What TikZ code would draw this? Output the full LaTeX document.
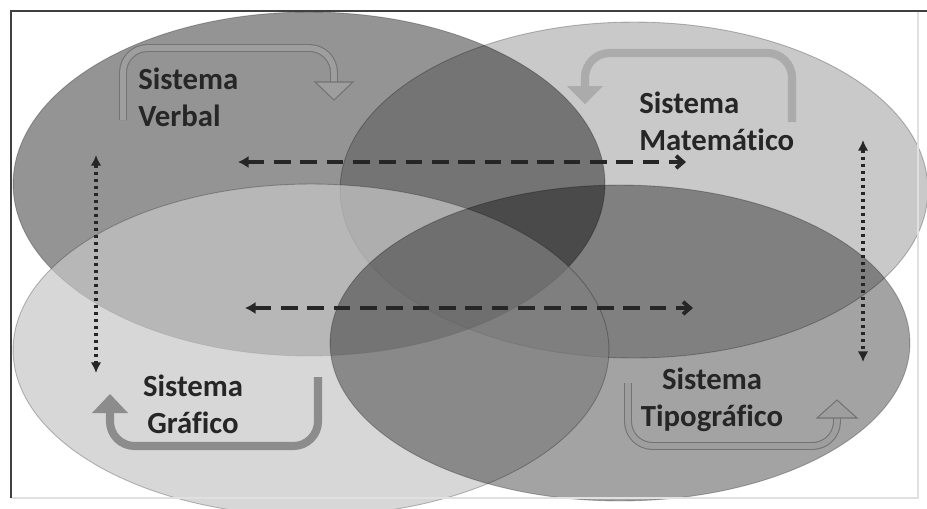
\documentclass[tikz,border=0pt]{standalone}
\usepackage{fontspec}
\setmainfont{Carlito}[Ligatures=NoCommon]
\usetikzlibrary{arrows.meta,shapes.geometric}

\tikzset{
  sistema/.style={font=\bfseries\fontsize{17.5}{21}\selectfont,text=black!85,inner sep=0pt},
  blob/.style={ellipse,draw=black,draw opacity=0.25,line width=0.5pt,inner sep=0pt},
  hollowarrow/.style={draw=#1!55,double=#1!38,double distance=3.3pt,line width=0.6pt,rounded corners=14pt},
  hollowhead/.style={draw=black!55,fill=black!38,line width=0.6pt},
  fullarrow/.style={draw=black!#1,line width=4.6pt,rounded corners=14pt},
  fullhead/.style={fill=black!#1},
  dashlink/.style={line width=2.2pt,black!85,dash pattern=on 9.5pt off 5.5pt,{Latex[length=6pt,width=7pt]}-{Straight Barb[length=4pt,width=7pt]}},
  dotlink/.style={line width=1.8pt,black!85,dash pattern=on 1.8pt off 2.2pt,{Latex[length=6pt,width=6pt]}-{Latex[length=6pt,width=6pt]}}
}

\begin{document}
\begin{tikzpicture}[x=0.02cm,y=-0.02cm]
  \useasboundingbox[fill=white] (0,0) rectangle (927,508);

  \node[blob,fill=black,fill opacity=0.42,minimum width=11.84cm,minimum height=6.88cm] (verbalblob) at (309,184) {};
  \node[blob,fill=black,fill opacity=0.21,minimum width=11.76cm,minimum height=6.72cm] (mateblob)   at (634,190) {};
  \node[blob,fill=black!22,fill opacity=0.7,minimum width=11.92cm,minimum height=6.64cm] (graficoblob) at (311,350) {};
  \node[blob,fill=black,fill opacity=0.36,minimum width=11.6cm,minimum height=6.32cm] (tipoblob)   at (620,343) {};

  \draw[hollowarrow=black] (123,120) -- (123,48) -- (334,48) -- (334,84);
  \filldraw[hollowhead] (315,82) -- (353,82) -- (334,100) -- cycle;
  \draw[fullarrow=33] (792,122) -- (792,53) -- (585,53) -- (585,88);
  \fill[fullhead=33] (567,86) -- (603,86) -- (585,104) -- cycle;
  \draw[fullarrow=45] (318,377) -- (318,446) -- (110,446) -- (110,411);
  \fill[fullhead=45] (92,413) -- (128,413) -- (110,394) -- cycle;
  \draw[hollowarrow=black] (628,383) -- (628,446) -- (837,446) -- (837,416);
  \filldraw[hollowhead] (817,418) -- (857,418) -- (837,400) -- cycle;

  \node[sistema,align=left,anchor=west] (verbal) at (138,97) {Sistema\\Verbal};
  \node[sistema,align=left,anchor=west] (mate) at (639,121) {Sistema\\Matemático};
  \node[sistema,align=center] (grafico) at (193,404) {Sistema\\Gráfico};
  \node[sistema,align=center] (tipo) at (712,400) {Sistema\\Tipográfico};

  \coordinate (vm-a) at (238,162);
  \coordinate (vm-b) at (686,162);
  \coordinate (gt-a) at (245,308);
  \coordinate (gt-b) at (693,308);
  \coordinate (vg-a) at (96,155);
  \coordinate (vg-b) at (96,373);
  \coordinate (mt-a) at (863,140);
  \coordinate (mt-b) at (863,362);

  \draw[dashlink] (vm-a) -- (vm-b);
  \draw[dashlink] (gt-a) -- (gt-b);
  \draw[dotlink] (vg-a) -- (vg-b);
  \draw[dotlink] (mt-a) -- (mt-b);

  \draw[black!12,line width=0.8pt] (11,498) -- (918,498) -- (918,11);
  \draw[black!75,line width=1.3pt] (11,498) -- (11,11) -- (927,11);
\end{tikzpicture}
\end{document}
